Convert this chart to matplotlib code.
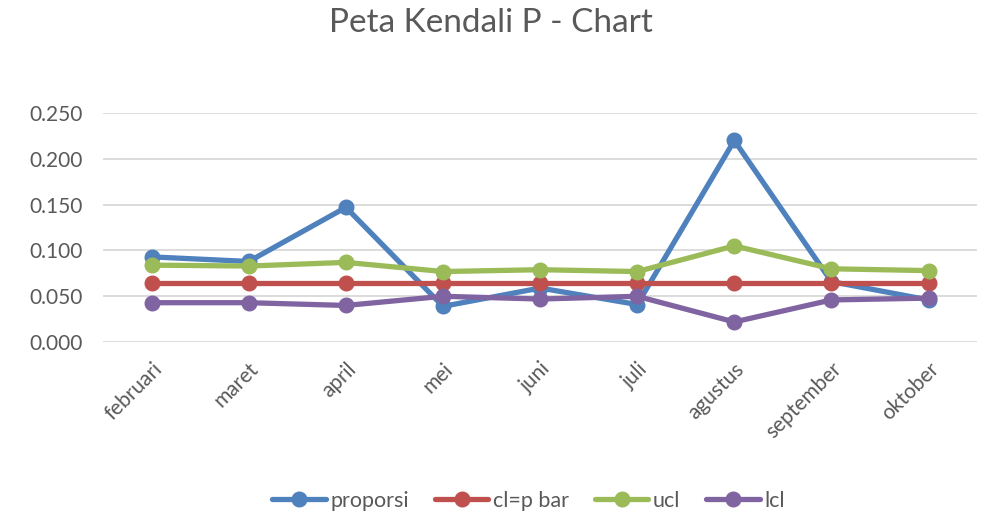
import matplotlib
matplotlib.use("Agg")
import matplotlib.pyplot as plt

# data
bulan = ["februari", "maret", "april", "mei", "juni", "juli", "agustus", "september", "oktober"]
proporsi = [0.093, 0.088, 0.147, 0.039, 0.059, 0.041, 0.220, 0.066, 0.046]
cl_pbar = [0.064, 0.064, 0.064, 0.064, 0.064, 0.064, 0.064, 0.064, 0.064]
ucl = [0.084, 0.083, 0.087, 0.077, 0.079, 0.077, 0.105, 0.080, 0.078]
lcl = [0.043, 0.043, 0.040, 0.050, 0.047, 0.050, 0.022, 0.046, 0.048]
yticks = [0.0, 0.05, 0.10, 0.15, 0.20, 0.25]

SERIES = [
    ("proporsi", proporsi, "#4F81BD"),
    ("cl=p bar", cl_pbar, "#C0504D"),
    ("ucl", ucl, "#9BBB59"),
    ("lcl", lcl, "#8064A2"),
]
TEXT = "#595959"
plt.rcParams["font.family"] = ["Lato", "DejaVu Sans"]

fig = plt.figure(figsize=(9.82, 5.16), dpi=100)
ax = fig.add_axes([0.105, 0.337, 0.89, 0.444])

x = list(range(len(bulan)))
for name, vals, col in SERIES:
    ax.plot(x, vals, color=col, lw=3.8, marker="o", markersize=10.5,
            solid_capstyle="round", label=name)

ax.set_xlim(-0.5, len(bulan) - 0.5)
ax.set_ylim(0, 0.25)
ax.set_yticks(yticks)
ax.set_yticklabels([f"{v:.3f}" for v in yticks], fontsize=15, color=TEXT)
ax.set_xticks(x)
ax.set_xticklabels(bulan, rotation=45, ha="right", rotation_mode="anchor",
                   fontsize=15, color=TEXT)
ax.tick_params(axis="y", length=0, pad=15)
ax.tick_params(axis="x", length=0, pad=12)
ax.yaxis.grid(True, color="#D9D9D9", lw=1.3)
ax.set_axisbelow(True)
for s in ax.spines.values():
    s.set_visible(False)

fig.text(0.5, 0.955, "Peta Kendali P - Chart", ha="center", va="center",
         fontsize=24, color=TEXT)
fig.legend(loc="center", bbox_to_anchor=(0.538, 0.03), ncol=4, frameon=False,
           fontsize=15.5, labelcolor=TEXT, handlelength=2.5, columnspacing=1.2,
           handletextpad=0.2)

fig.savefig("out.png", dpi=100)
